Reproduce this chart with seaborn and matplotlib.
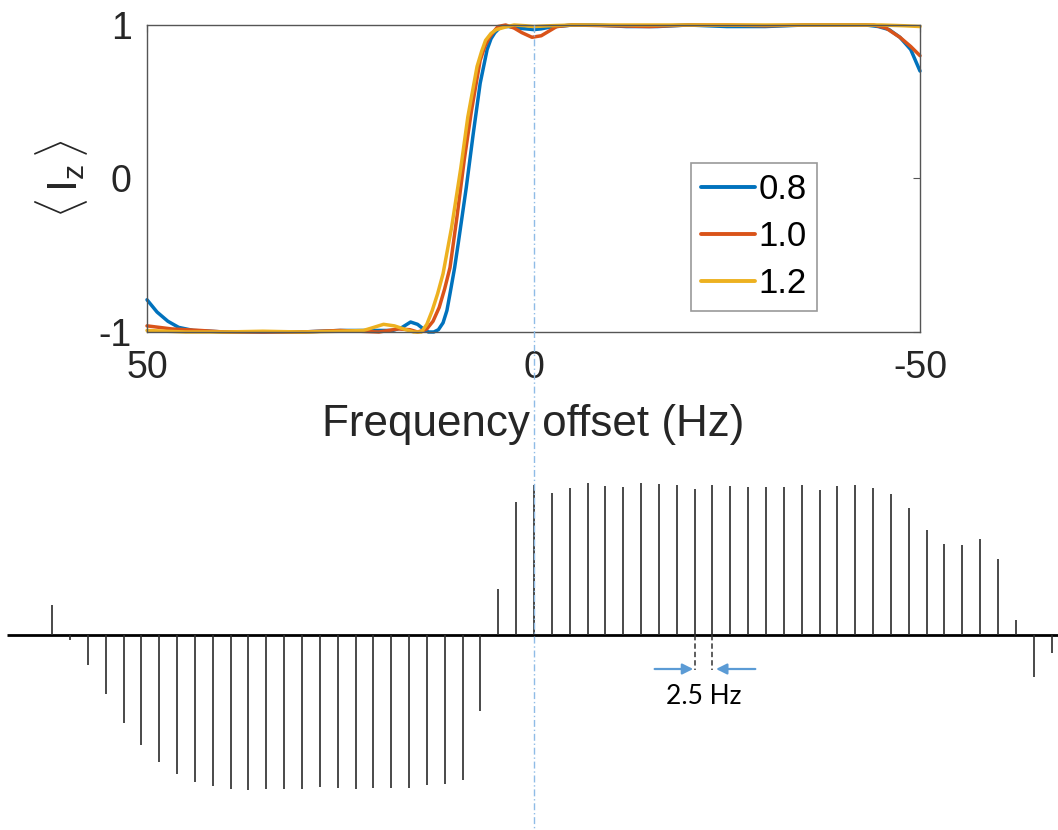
import numpy as np
import pandas as pd
import matplotlib
matplotlib.use("Agg")
import matplotlib.pyplot as plt
import seaborn as sns
from matplotlib import transforms
from matplotlib.lines import Line2D

# ---------------- data: top panel (Iz vs frequency offset) ----------------
x_08 = [50, 48.7, 47.3, 45.9, 44, 40, 35, 30, 25, 20, 18.2, 17, 15.9, 15, 14.5,
        13.6, 12.9, 12.3, 11.7, 11.2, 10.8, 10.2, 9.7, 8.7, 7.8, 6.9, 6.0, 5.5,
        5.0, 4.5, 4.1, 3.2, 2, 1,
        0, -1, -2, -3, -5, -8, -12, -16, -20, -25, -30, -35, -40, -43, -44.6,
        -46, -47.4, -48.8, -50]
y_08 = [-0.79, -0.87, -0.93, -0.97, -0.99, -1.0, -1.0, -1.0, -0.99, -0.99,
        -0.99, -0.97, -0.935, -0.95, -0.97, -1.0, -1.0, -0.985, -0.94, -0.86,
        -0.75, -0.58, -0.41, -0.06, 0.29, 0.62, 0.84, 0.91,
        0.95, 0.975, 0.99, 0.99, 0.98, 0.975,
        0.97, 0.975, 0.985, 0.99, 1.0, 1.0, 0.99, 0.99, 1.0, 0.99,
        0.99, 1.0, 1.0, 1.0, 0.99, 0.97, 0.92, 0.84, 0.70]

x_10 = [50, 46.8, 43.1, 40, 35, 30, 25, 20, 17.5, 16, 15, 14.3, 13.8, 13.0, 12.2,
        11.5, 10.8, 9.9, 8.96, 8.03, 6.9, 6.3, 5.7, 5.1, 4.6, 3.6, 2.5, 1.5, 0.2,
        -1, -2, -3, -5, -10, -15, -20, -25, -30, -35, -40, -44, -45.6, -47.4,
        -48.8, -50]
y_10 = [-0.96, -0.98, -0.99, -1.0, -1.0, -1.0, -0.99, -1.0, -0.98, -0.985,
        -1.0, -0.99, -0.98, -0.93, -0.84, -0.72, -0.58, -0.25, 0.12, 0.44,
        0.77, 0.86, 0.92, 0.96, 0.99, 1.0, 0.98, 0.95, 0.92,
        0.93, 0.96, 0.99, 1.0, 0.995, 0.99, 1.0, 1.0, 0.995, 1.0, 1.0, 1.0,
        0.98, 0.92, 0.86, 0.80]

x_12 = [50, 45, 40, 35, 30, 25, 22, 21, 19.4, 18, 16.5, 15.5, 14.5, 13.8, 13.1,
        12.4, 11.7, 10.6, 9.4, 8.5, 7.3, 6.7, 6.2, 5.5, 4.8, 3.4, 2.5, 1, 0,
        -2, -5, -10, -20, -30, -40, -45, -48, -50]
y_12 = [-0.99, -1.0, -1.0, -0.995, -1.0, -0.995, -0.99, -0.975, -0.95, -0.96,
        -0.985, -1.0, -1.0, -0.95, -0.86, -0.75, -0.62, -0.32, 0.07, 0.40,
        0.73, 0.83, 0.90, 0.945, 0.97, 0.99, 1.0, 0.995, 0.99,
        0.995, 1.0, 1.0, 1.0, 1.0, 1.0, 1.0, 0.995, 0.99]

series_labels = ["0.8", "1.0", "1.2"]
series_colors = ["#0072BD", "#D95319", "#EDB120"]
x_ticks = [50, 0, -50]
y_ticks = [-1, 0, 1]

# ---------------- data: bottom panel (spectrum comb, 2.5 Hz spacing) ----------------
peak_spacing_hz = 2.5
first_peak_hz = 67.5          # left-most line (highest offset)
peak_heights = [30, -5, -30, -59, -88, -110, -127, -139, -147, -151,
                -154, -155, -154, -154, -154, -152, -153, -154, -153, -153,
                -153, -150, -149, -145, -76, 46, 133, 150, 142, 147,
                152, 149, 148, 152, 151, 150, 146, 150, 149, 148,
                148, 148, 150, 145, 149, 150, 147, 141, 127, 105,
                91, 90, 96, 76, 15, -42, -18]
spectrum_range_hz = [73.8, -73.4]
marked_peaks_hz = [-22.5, -25.0]
marked_label = "2.5 Hz"

# ---------------- figure ----------------
sns.set_theme(style="white")
plt.rcParams["font.family"] = ["Liberation Sans", "DejaVu Sans"]
plt.rcParams["mathtext.fontset"] = "custom"
plt.rcParams["mathtext.rm"] = "Liberation Sans"
plt.rcParams["mathtext.it"] = "Liberation Sans"

W, H = 1058, 830
fig = plt.figure(figsize=(W / 100, H / 100), dpi=100)
fig.patch.set_facecolor("white")

ax = fig.add_axes([147 / W, 1 - 332 / H, 773 / W, 307 / H])

df = pd.concat([
    pd.DataFrame({"offset": x_08, "Iz": y_08, "scale": series_labels[0]}),
    pd.DataFrame({"offset": x_10, "Iz": y_10, "scale": series_labels[1]}),
    pd.DataFrame({"offset": x_12, "Iz": y_12, "scale": series_labels[2]}),
], ignore_index=True)

sns.lineplot(data=df, x="offset", y="Iz", hue="scale", hue_order=series_labels,
             palette=series_colors, estimator=None, linewidth=2.5, ax=ax)
for ln in ax.get_lines():
    ln.set_clip_on(False)
    ln.set_solid_joinstyle("round")

ax.set_xlim(50, -50)
ax.set_ylim(-1, 1)
ax.set_xticks(x_ticks)
ax.set_xticklabels([str(t) for t in x_ticks])
ax.set_yticks(y_ticks)
ax.set_yticklabels([str(t) for t in y_ticks])
spine_col = "#555555"
for s in ax.spines.values():
    s.set_visible(True)
    s.set_color(spine_col)
    s.set_linewidth(1.0)
ax.tick_params(axis="both", direction="in", length=5, width=0.8, color=spine_col,
               labelsize=27, labelcolor="#262626", top=True, right=True)
ax.tick_params(axis="x", pad=13)
ax.tick_params(axis="y", pad=11)

ax.set_xlabel("Frequency offset (Hz)", fontsize=31.7, color="#262626", va="top")
ax.xaxis.set_label_coords(0.5, (332 - 404) / 307)
ax.set_ylabel(r"$\langle\,\mathrm{I}_{\mathrm{z}}\,\rangle$", fontsize=31, color="#262626")
ax.yaxis.set_label_coords((90 - 147) / 773, 0.5)

handles, labels = ax.get_legend_handles_labels()
leg = ax.legend(handles, labels, loc="upper left",
                bbox_to_anchor=(691 / W, 1 - 163 / H), bbox_transform=fig.transFigure,
                fontsize=25, frameon=True, fancybox=False, borderpad=0.3,
                labelspacing=0.4, handlelength=1.55, handletextpad=0.1,
                borderaxespad=0, labelcolor="black")
leg.get_frame().set_edgecolor("#808080")
leg.get_frame().set_linewidth(1.2)
for lh in leg.get_lines():
    lh.set_linewidth(2.8)

# ---------------- spectrum ----------------
ax2 = fig.add_axes([0, 0, 1, 370 / H])
ax2.set_axis_off()
ax2.set_xlim(74.8, -73.4)
ax2.set_ylim(-195, 175)
peak_hz = first_peak_hz - peak_spacing_hz * np.arange(len(peak_heights))
ax2.hlines(0, spectrum_range_hz[0], spectrum_range_hz[1], color="black", lw=2.0)
ax2.vlines(peak_hz, 0, peak_heights, color="#2a2a2a", lw=1.2)

for f in marked_peaks_hz:
    ax2.plot([f, f], [0, -35], color="#333333", lw=1.1, ls=(0, (3.5, 2)))
arrow_col = "#5B9BD5"
ax2.annotate("", xy=(-22.3, -34), xytext=(-16.9, -34),
             arrowprops=dict(arrowstyle="-|>", color=arrow_col, lw=1.6,
                             mutation_scale=16, shrinkA=0, shrinkB=0))
ax2.annotate("", xy=(-25.5, -34), xytext=(-31.0, -34),
             arrowprops=dict(arrowstyle="-|>", color=arrow_col, lw=1.6,
                             mutation_scale=16, shrinkA=0, shrinkB=0))
ax2.text(-23.75, -62, marked_label, fontsize=19, family=["Lato", "DejaVu Sans"],
         ha="center", va="center", color="black")

# dashed zero-offset guide through both panels
blend = transforms.blended_transform_factory(ax.transData, fig.transFigure)
fig.add_artist(Line2D([0, 0], [1 - 25 / H, 0], transform=blend, color="#8FBCE6",
                      lw=1.0, ls=(0, (5, 2, 1, 2)), zorder=10))

fig.savefig("out.png", dpi=100, facecolor="white")
